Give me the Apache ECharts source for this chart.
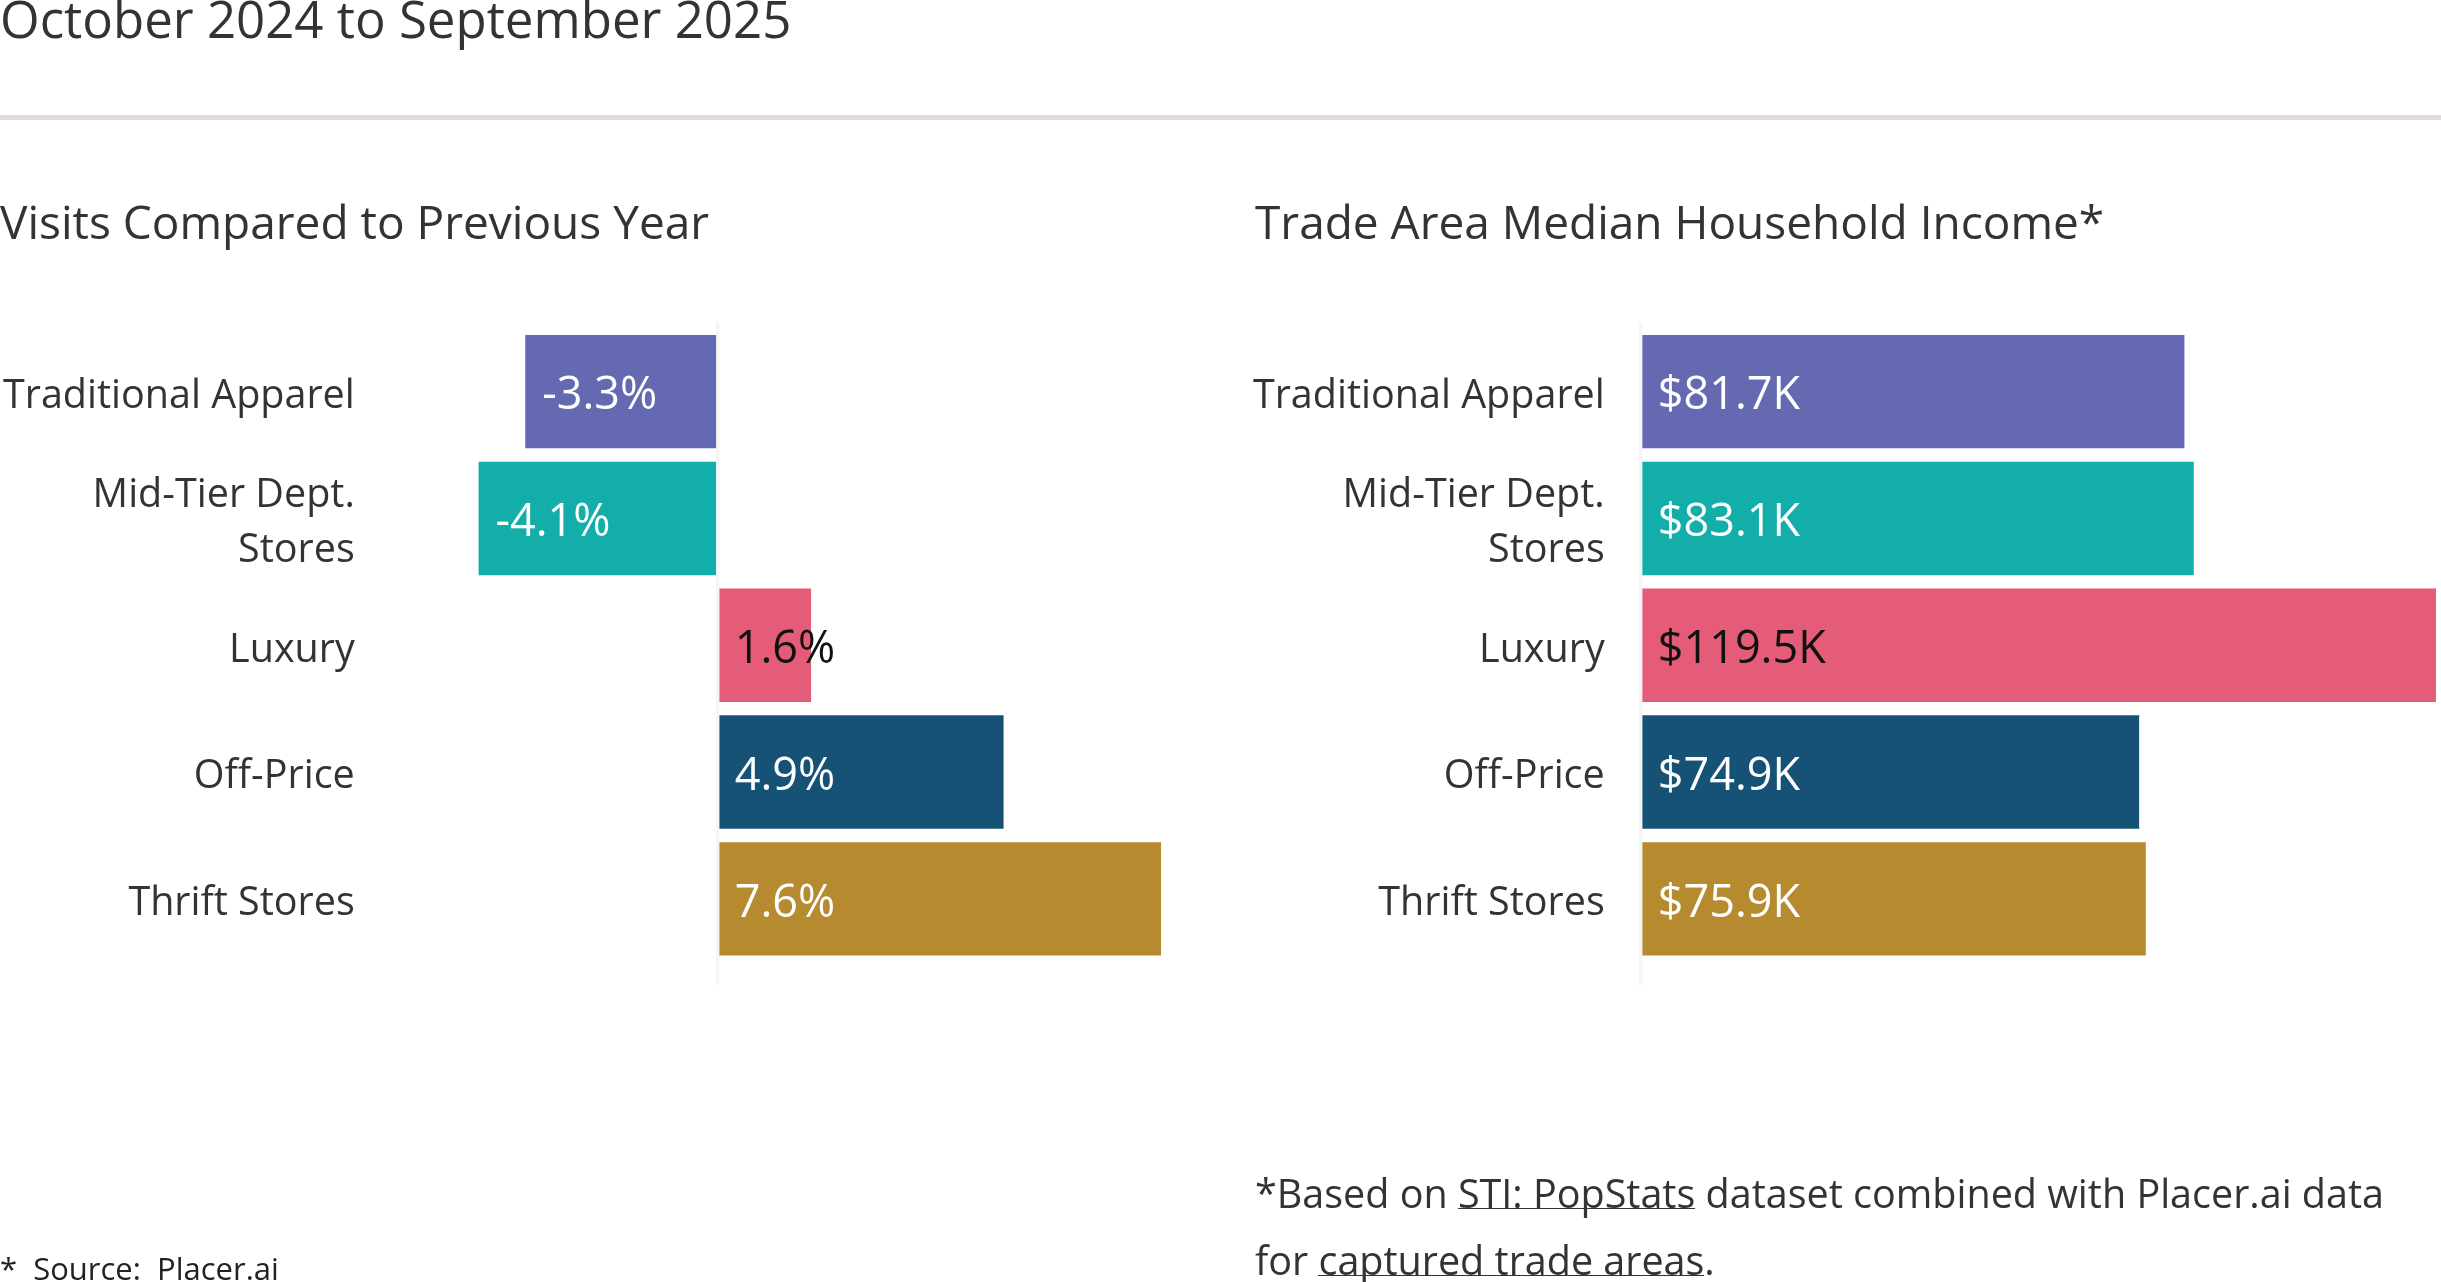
<!DOCTYPE html>
<html><head><meta charset="utf-8">
<script src="https://cdn.jsdelivr.net/npm/echarts@6/dist/echarts.min.js"></script>
<style>html,body{margin:0;padding:0;background:#fff}#c{width:2441px;height:1282px}</style>
</head><body><div id="c"></div>
<script>
const categories = ['Traditional Apparel', 'Mid-Tier Dept.\nStores', 'Luxury', 'Off-Price', 'Thrift Stores'];
const visitsYoY = [-3.3, -4.1, 1.6, 4.9, 7.6];
const medianIncomeK = [81.7, 83.1, 119.5, 74.9, 75.9];
const barColors = ['#6469B1', '#14AEAA', '#E45C77', '#165276', '#B68A2F'];
const valueLabelColors = ['#ffffff', '#ffffff', '#111111', '#ffffff', '#ffffff'];
const titleText = 'October 2024 to September 2025';
const leftTitle = 'Visits Compared to Previous Year';
const rightTitle = 'Trade Area Median Household Income*';

const FONT = '"Open Sans", "Noto Sans", sans-serif';
const chart = echarts.init(document.getElementById('c'), null, {renderer: 'canvas'});

function ulImage() {
  const cv = document.createElement('canvas');
  cv.width = 4; cv.height = 100;
  const g = cv.getContext('2d');
  g.fillStyle = '#333';
  g.fillRect(0, 79, 4, 3);
  return cv;
}
const ul = ulImage();

function barData(vals) {
  return vals.map((v, i) => ({
    value: v,
    itemStyle: {color: barColors[i]},
    label: {color: valueLabelColors[i]}
  }));
}

const catAxisCommon = {
  type: 'category', data: categories, inverse: true,
  axisTick: {show: false},
  axisLine: {show: false},
  axisLabel: {
    align: 'right',
    formatter: v => v.split('\n').map(s => '{a|' + s + '}').join('\n'),
    rich: {a: {fontFamily: FONT, fontSize: 39.5, color: '#333', lineHeight: 55, padding: [10, 0, 0, 0]}}
  }
};

const valueLabel = {show: true, position: 'insideLeft', fontFamily: FONT, fontSize: 45, offset: [0, 5]};

chart.setOption({
  animation: false,
  backgroundColor: '#fff',
  grid: [
    {left: 361.2, top: 328.25, width: 823.2, height: 634, containLabel: false},
    {left: 1640.7, top: 328.25, width: 798.6, height: 634, containLabel: false}
  ],
  xAxis: [
    {gridIndex: 0, type: 'value', min: -6, max: 8, show: false},
    {gridIndex: 1, type: 'value', min: 0, max: 120, show: false}
  ],
  yAxis: [
    Object.assign({gridIndex: 0}, catAxisCommon, {axisLabel: Object.assign({}, catAxisCommon.axisLabel, {margin: 13})}),
    Object.assign({gridIndex: 1}, catAxisCommon, {axisLabel: Object.assign({}, catAxisCommon.axisLabel, {margin: 36})})
  ],
  series: [
    {
      type: 'bar', xAxisIndex: 0, yAxisIndex: 0, data: barData(visitsYoY),
      barCategoryGap: '10.6%',
      label: Object.assign({}, valueLabel, {distance: 17, formatter: p => p.value.toFixed(1) + '%'})
    },
    {
      type: 'bar', xAxisIndex: 1, yAxisIndex: 1, data: barData(medianIncomeK),
      barCategoryGap: '10.6%',
      label: Object.assign({}, valueLabel, {distance: 17, formatter: p => '$' + p.value.toFixed(1) + 'K'})
    }
  ],
  graphic: [
    {id: 'title', type: 'text', left: 0, top: -2, style: {text: titleText, font: '51px ' + FONT, fill: '#333'}},
    {id: 'sep', type: 'rect', left: 0, top: 115, shape: {width: 2441, height: 5}, style: {fill: '#E6DADD'}},
    {id: 'lt', type: 'text', x: 0, y: 226, style: {text: leftTitle, font: '46px ' + FONT, fill: '#333', verticalAlign: 'middle'}},
    {id: 'rt', type: 'text', x: 1255, y: 226, style: {text: rightTitle, font: '46px ' + FONT, fill: '#333', verticalAlign: 'middle'}},
    {id: 'src', type: 'text', x: 0, y: 1271, style: {text: '*  Source:  Placer.ai', font: '31px ' + FONT, fill: '#222', verticalAlign: 'middle'}},
    {id: 'note', type: 'text', x: 1255, y: 1163, style: {
      text: '*Based on {u|STI: PopStats} dataset combined with Placer.ai data\nfor {u|captured trade areas}.',
      font: '39.5px ' + FONT, fill: '#333', lineHeight: 67,
      rich: {u: {font: '39.5px ' + FONT, fill: '#333', lineHeight: 67, backgroundColor: {image: ul}}}
    }}
  ]
});

// faint zero baselines, positioned from the axes' own scales
const x0L = chart.convertToPixel({xAxisIndex: 0}, 0);
const x0R = chart.convertToPixel({xAxisIndex: 1}, 0);
chart.setOption({
  graphic: [
    {id: 'zl', type: 'rect', z: 100, shape: {x: x0L - 1.7, y: 322, width: 3.4, height: 663}, style: {fill: '#f5f5f5'}},
    {id: 'zr', type: 'rect', z: 100, shape: {x: x0R - 1.7, y: 322, width: 3.4, height: 663}, style: {fill: '#f5f5f5'}}
  ]
});
</script>
</body></html>
